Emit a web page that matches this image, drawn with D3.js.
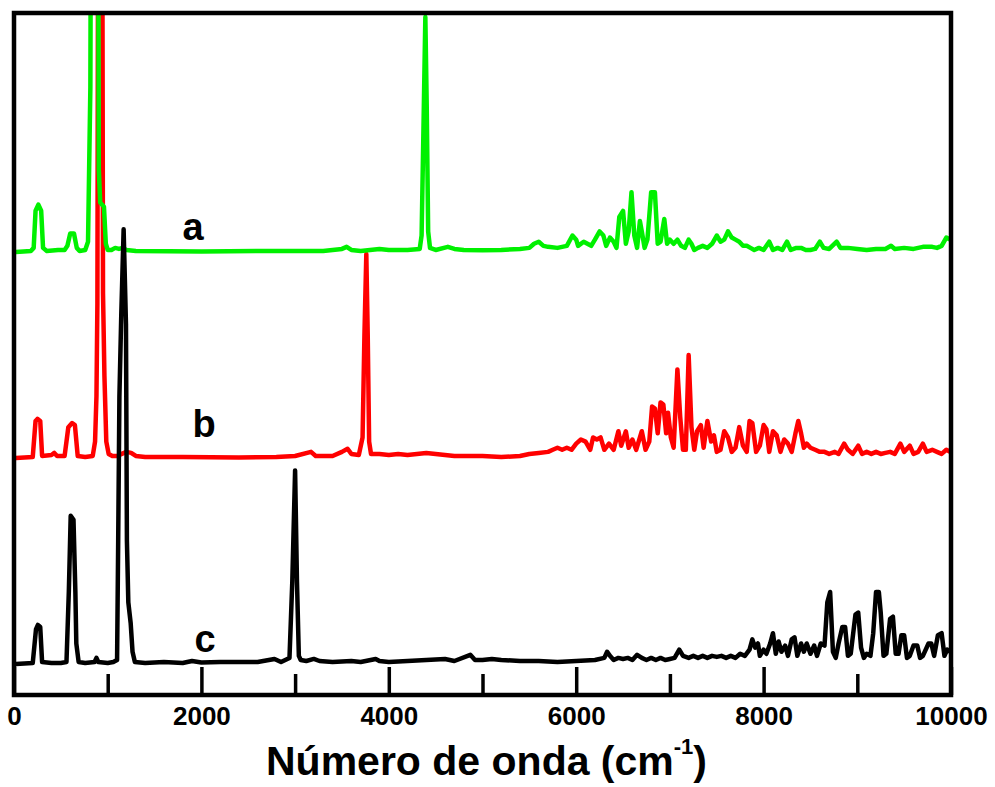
<!DOCTYPE html>
<meta charset="utf-8">
<script src="https://cdn.jsdelivr.net/npm/d3@7"></script>
<style>
body { margin: 0; background: #fff; }
.line { fill: none; stroke-width: 4.5px; stroke-linejoin: round; }
.axis text { font-family: "Liberation Sans", Arial, sans-serif; font-weight: bold; font-size: 26px; fill: #000; }
.axis line { stroke: #000; stroke-width: 3.5px; }
.axis path { display: none; }
.lbl { font-family: "Liberation Sans", Arial, sans-serif; font-weight: bold; font-size: 38px; }
.title { font-family: "Liberation Sans", Arial, sans-serif; font-weight: bold; font-size: 41px; }
</style>
<body>
<script>

// spectrum a (green) : [wavenumber, intensity]
var specA = [
  [20,0],[180,0.5],[210,2],[230,20],[260,23],[290,20],[310,2],[350,0.5],[470,1],[540,1],[570,3],[600,9],[640,9],[670,2],
  [700,0.5],[760,1],[790,5],[815,80],[830,330],[870,340],[890,330],[905,40],[920,24],[960,22],[980,4],[1000,1],
  [1040,1],[1080,2],[1120,1.5],[1160,2],[1200,1],[1300,0.5],[2000,0.3],[2800,0.5],[3300,0.5],[3500,1.5],[3550,2.5],
  [3600,1],[3700,0.5],[3900,1.5],[4000,1],[4200,1],[4330,1.5],[4350,8],[4370,60],[4390,114],[4405,70],[4420,10],
  [4440,2],[4500,1],[4630,2.5],[4700,1.5],[4800,1],[5000,0.8],[5200,1],[5400,1.5],[5500,2],[5550,4],[5600,5],
  [5650,3],[5700,2.5],[5800,2],[5900,3],[5960,8],[6000,6],[6020,3],[6080,5],[6120,4],[6160,3],[6200,6],[6250,10],
  [6290,8],[6320,3],[6360,7],[6400,5],[6430,2],[6460,17],[6500,20],[6530,4],[6560,10],[6590,29],[6620,8],[6650,2],
  [6680,15],[6700,10],[6730,2],[6760,6],[6800,29],[6840,29],[6870,4],[6900,5],[6940,16],[6970,4],[7000,6],[7040,4],
  [7080,6],[7120,3],[7160,2],[7200,6],[7230,4],[7260,1],[7300,2],[7350,3],[7400,2],[7450,4],[7500,8],[7540,5],
  [7580,6],[7620,10],[7660,7],[7700,6],[7740,5],[7780,3],[7820,3],[7860,2],[7900,1],[7950,2],[8000,1],[8060,5],
  [8100,1],[8150,2],[8200,1],[8250,5],[8290,1],[8350,2],[8400,2],[8450,1],[8500,1],[8550,1.5],[8600,5],[8640,2],
  [8700,1.5],[8780,5],[8820,2],[8900,2],[9000,1.5],[9100,1],[9200,1.5],[9300,1.5],[9360,3],[9400,1.5],[9500,2],
  [9600,1.5],[9700,2.5],[9800,2.5],[9850,2],[9900,3],[9950,7],[9990,6]
];

// spectrum b (red)
var specB = [
  [20,0],[200,0.5],[230,18],[250,19],[280,18],[300,1],[400,1.5],[430,2.5],[460,1],[540,1],[580,15],[620,17],[650,16],
  [680,1],[760,0.5],[840,1],[865,8],[880,30],[890,75],[900,330],[940,330],[950,80],[965,40],[985,8],[1010,2],
  [1050,1],[1100,1],[1150,2],[1200,3],[1250,2.5],[1300,1],[1400,0.5],[1800,0.5],[2400,0.3],[2800,0.5],[3000,1],
  [3170,3],[3220,1],[3400,1],[3500,3],[3560,4.5],[3600,2],[3680,1.5],[3720,10],[3740,60],[3760,99],[3775,60],
  [3790,8],[3810,2],[3900,2],[4000,1.5],[4100,2],[4200,1.5],[4300,2],[4400,2.5],[4500,2],[4600,1.5],[4700,1],
  [4800,1],[5000,1],[5200,0.5],[5400,1],[5500,2],[5600,2.5],[5700,3],[5750,4],[5800,5],[5850,4],[5900,5],[5950,4],
  [6000,7],[6050,9],[6100,8],[6150,4],[6180,10],[6220,9],[6260,10],[6300,4],[6350,7],[6400,4],[6450,13],[6480,6],
  [6530,13],[6560,5],[6600,9],[6640,4],[6700,13],[6740,4],[6780,8],[6810,25],[6840,24],[6870,12],[6900,27],
  [6930,26],[6960,12],[6980,22],[7010,10],[7040,5],[7080,43],[7110,20],[7140,4],[7170,4],[7200,50],[7230,15],
  [7260,4],[7290,13],[7330,16],[7360,5],[7400,18],[7440,8],[7470,11],[7500,3],[7540,4],[7580,13],[7620,10],
  [7660,3],[7700,5],[7740,15],[7780,6],[7820,3],[7850,18],[7880,17],[7920,3],[7960,6],[8000,16],[8030,14],
  [8060,3],[8100,13],[8140,11],[8180,3],[8220,9],[8260,7],[8300,3],[8340,12],[8370,18],[8400,12],[8430,5],
  [8460,7],[8500,5],[8550,4],[8600,3],[8650,3],[8700,2],[8760,3],[8800,2],[8860,7],[8900,4],[8950,2],[9010,6],
  [9050,2],[9100,3],[9150,2],[9200,3],[9250,2],[9300,2.5],[9350,3],[9400,2],[9460,7],[9500,3],[9560,6],[9600,2],
  [9650,3],[9700,7],[9740,3],[9800,4],[9850,3],[9900,2],[9950,4],[9990,3]
];

// spectrum c (black)
var specC = [
  [20,0],[200,0.5],[235,17],[255,19],[280,18],[300,1],[400,0.5],[500,0.5],[560,1],[585,35],[605,72],[635,70],
  [655,35],[665,10],[690,1],[760,0.5],[860,1],[880,3],[900,1],[1000,0.5],[1060,1],[1100,2],[1112,60],[1125,130],
  [1145,170],[1170,211],[1195,165],[1205,60],[1220,30],[1245,20],[1265,6],[1290,1],[1400,0.5],[1600,1],[1800,0.5],
  [1900,1.5],[2000,0.8],[2200,1],[2400,1],[2600,1],[2780,2.5],[2850,1],[2940,3],[2970,40],[3000,94],[3020,40],
  [3040,4],[3060,2],[3120,1.5],[3200,2.5],[3260,1.5],[3400,1],[3600,1.5],[3700,1],[3860,2.5],[3900,1.5],[4000,1],
  [4200,1.5],[4400,2],[4600,2.5],[4700,1.5],[4870,4.5],[4920,2],[5000,2],[5100,2.5],[5200,2],[5400,1.5],[5600,1.5],
  [5800,1],[6000,1.5],[6200,2],[6300,3],[6330,6],[6360,4],[6400,2],[6450,3],[6500,2.5],[6550,3],[6600,2],
  [6650,4.5],[6700,3],[6750,2],[6800,3],[6850,2],[6900,3],[6950,2],[7000,2.5],[7050,3],[7100,7],[7140,4],[7200,3],
  [7250,4],[7300,3],[7350,4],[7400,3],[7450,4],[7500,3.5],[7550,4],[7600,3],[7650,4],[7700,3],[7750,5],[7800,4],
  [7850,7],[7880,12],[7910,8],[7940,10],[7960,4],[8000,7],[8030,5],[8070,10],[8100,15],[8130,5],[8160,11],
  [8190,6],[8230,9],[8260,4],[8300,12],[8330,13],[8360,4],[8400,10],[8430,6],[8460,10],[8500,5],[8540,9],[8570,4],
  [8610,10],[8650,9],[8680,30],[8710,35],[8740,6],[8770,3],[8800,10],[8840,18],[8870,18],[8900,4],[8930,5],
  [8980,24],[9010,25],[9040,8],[9070,3],[9100,5],[9140,4],[9170,15],[9200,35],[9230,35],[9250,25],[9280,4],
  [9310,5],[9350,22],[9380,23],[9410,5],[9440,5],[9470,14],[9500,14],[9530,3],[9560,4],[9600,9],[9640,9],
  [9670,3],[9700,4],[9760,10],[9790,10],[9820,4],[9860,14],[9900,15],[9930,4],[9960,7],[9990,6]
];

// vertical offsets of the stacked spectra
var offsets = { a: 200, b: 100, c: 0 };
var colors = { a: "#00f000", b: "#ff0000", c: "#000000" };

// curve labels [text, wavenumber, intensity]
var labels = [["a", 1910, 206], ["b", 2030, 110], ["c", 2040, 6]];

var majorTicks = [0, 2000, 4000, 6000, 8000, 10000];
var minorTicks = [1000, 3000, 5000, 7000, 9000];

// dimensions
var margin = {top: 13, right: 44, bottom: 92, left: 14},
    width = 995 - margin.left - margin.right,
    height = 787 - margin.top - margin.bottom;

var x = d3.scaleLinear().domain([0, 10000]).range([0, width]);
var y = d3.scaleLinear().domain([-15, 316]).range([height, 0]);

var svg = d3.select("body").append("svg")
    .attr("width", 995)
    .attr("height", 787)
  .append("g")
    .attr("transform", "translate(" + margin.left + "," + margin.top + ")");

svg.append("clipPath").attr("id", "clip")
  .append("rect").attr("width", width).attr("height", height);

var plot = svg.append("g").attr("clip-path", "url(#clip)");

function drawSpec(data, key) {
  var line = d3.line()
      .x(function(d) { return x(d[0]); })
      .y(function(d) { return y(d[1] + offsets[key]); });
  plot.append("path")
      .datum(data)
      .attr("class", "line")
      .style("stroke", colors[key])
      .attr("d", line);
}

// red below green, black on top
drawSpec(specB, "b");
drawSpec(specA, "a");
drawSpec(specC, "c");

// curve labels
svg.selectAll(".lbl")
    .data(labels)
  .enter().append("text")
    .attr("class", "lbl")
    .attr("text-anchor", "middle")
    .attr("x", function(d) { return x(d[1]); })
    .attr("y", function(d) { return y(d[2]); })
    .text(function(d) { return d[0]; });

// minor ticks
svg.append("g")
    .attr("class", "axis")
    .attr("transform", "translate(0," + height + ")")
    .call(d3.axisBottom(x).tickValues(minorTicks).tickSize(-21).tickFormat(""));

// major ticks with labels
svg.append("g")
    .attr("class", "axis")
    .attr("transform", "translate(0," + height + ")")
    .call(d3.axisBottom(x).tickValues(majorTicks).tickSize(-28).tickPadding(12).tickFormat(d3.format("d")));

// frame
svg.append("rect")
    .attr("width", width)
    .attr("height", height)
    .style("fill", "none")
    .style("stroke", "#000")
    .style("stroke-width", "4.5px");

// x axis title
var title = svg.append("text")
    .attr("class", "title")
    .attr("text-anchor", "middle")
    .attr("x", width / 2 + 4)
    .attr("y", height + 80);
title.append("tspan").text("Número de onda (cm");
title.append("tspan").attr("dy", -21).attr("font-size", "22px").text("-1");
title.append("tspan").attr("dy", 21).text(")");

</script>
</body>
